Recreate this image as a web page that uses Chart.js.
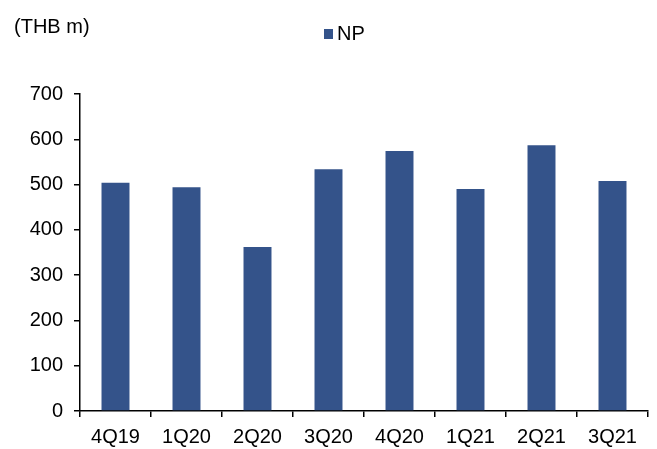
<!DOCTYPE html>
<html>
<head>
<meta charset="utf-8">
<script src="https://cdn.jsdelivr.net/npm/chart.js@4/dist/chart.umd.min.js"></script>
<style>
html,body{margin:0;padding:0;background:#fff;}
#wrap{width:657px;height:449px;}
</style>
</head>
<body>
<div id="wrap"><canvas id="c" width="657" height="449"></canvas></div>
<script>
const categories = ['4Q19','1Q20','2Q20','3Q20','4Q20','1Q21','2Q21','3Q21'];
const npValues = [504, 494, 362, 534, 574, 490, 587, 508];
const unitLabel = '(THB m)';
const seriesName = 'NP';
const barColor = '#34538A';
const FONT = '"Liberation Sans", Arial, sans-serif';

const textPlugin = {
  id: 'textPlugin',
  afterDraw(chart) {
    const ctx = chart.ctx;
    ctx.save();
    ctx.fillStyle = '#000';
    ctx.font = '20px ' + FONT;
    ctx.textBaseline = 'middle';
    ctx.textAlign = 'left';
    ctx.fillText(unitLabel, 14, 27);
    // legend
    ctx.fillStyle = barColor;
    ctx.fillRect(324, 29, 9, 10);
    ctx.fillStyle = '#000';
    ctx.fillText(seriesName, 337, 34);
    ctx.restore();
  }
};

new Chart(document.getElementById('c'), {
  type: 'bar',
  data: {
    labels: categories,
    datasets: [{
      label: seriesName,
      data: npValues,
      backgroundColor: barColor,
      borderWidth: 0,
      categoryPercentage: 0.394,
      barPercentage: 1.0
    }]
  },
  options: {
    responsive: false,
    animation: false,
    devicePixelRatio: 1,
    layout: { padding: { top: 94, right: 9, left: 0, bottom: 0 } },
    plugins: { legend: { display: false }, title: { display: false }, tooltip: { enabled: false } },
    scales: {
      x: {
        offset: true,
        grid: { display: true, drawOnChartArea: false, offset: true, tickLength: 6, color: '#000', lineWidth: 1.5 },
        border: { display: true, color: '#000', width: 1.5 },
        ticks: { color: '#000', font: { family: FONT, size: 20 }, padding: 8, maxRotation: 0 },
        afterFit(s) { s.height = 38; }
      },
      y: {
        min: 0, max: 700,
        grid: { display: true, drawOnChartArea: false, tickLength: 6, color: '#000', lineWidth: 1.5 },
        border: { display: true, color: '#000', width: 1.5 },
        ticks: { stepSize: 100, color: '#000', font: { family: FONT, size: 20 }, padding: 11 },
        afterFit(s) { s.width = 80; }
      }
    }
  },
  plugins: [textPlugin]
});
</script>
</body>
</html>
